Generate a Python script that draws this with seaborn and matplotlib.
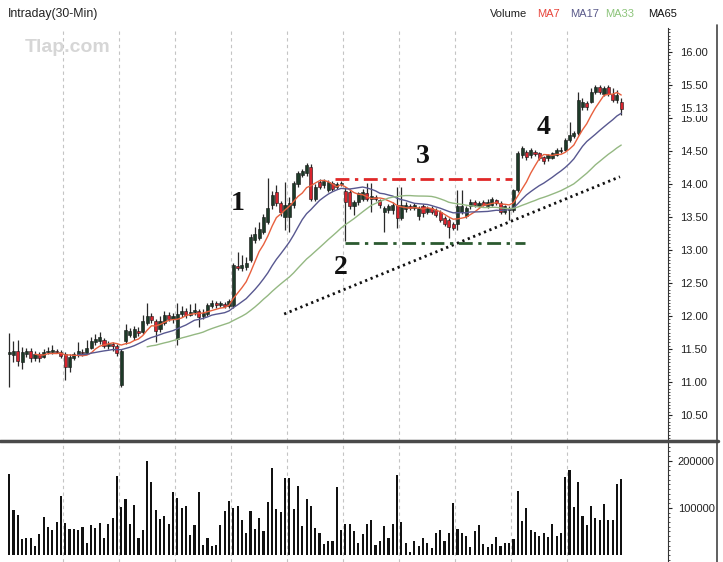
import numpy as np
import pandas as pd
import matplotlib
matplotlib.use("Agg")
import matplotlib.pyplot as plt
import seaborn as sns
from matplotlib.lines import Line2D
from matplotlib.ticker import MultipleLocator, FixedLocator

# ---------------- data ----------------
opens = [11.42, 11.41, 11.47, 11.30, 11.42, 11.47, 11.36, 11.42, 11.38, 11.45, 11.45, 11.47, 11.46,
         11.42, 11.22, 11.36, 11.41, 11.46, 11.44, 11.52, 11.60, 11.62, 11.63, 11.55, 11.57, 11.54,
         10.95, 11.62, 11.71, 11.68, 11.78, 11.76, 11.90, 12.00, 11.93, 11.80, 11.90, 12.02, 11.96,
         11.65, 12.03, 12.07, 12.02, 12.06, 12.07, 12.00, 12.03, 12.15, 12.19, 12.16, 12.18, 12.15,
         12.15, 12.76, 12.73, 12.74, 12.85, 13.15, 13.18, 13.28, 13.43, 13.68, 13.88, 13.71, 13.50,
         13.50, 13.68, 14.00, 14.14, 14.16, 14.26, 13.78, 14.03, 13.98, 13.91, 14.02, 13.95, 14.00,
         13.90, 13.88, 13.66, 13.72, 13.78, 13.86, 13.78, 13.80, 13.76, 13.58, 13.60, 13.60, 13.68,
         13.48, 13.62, 13.66, 13.63, 13.52, 13.66, 13.58, 13.63, 13.61, 13.58, 13.49, 13.45, 13.40,
         13.40, 13.58, 13.52, 13.66, 13.73, 13.66, 13.73, 13.66, 13.68, 13.76, 13.71, 13.58, 13.61,
         13.61, 13.91, 14.44, 14.49, 14.44, 14.49, 14.47, 14.41, 14.39, 14.40, 14.44, 14.50, 14.52,
         14.67, 14.72, 14.77, 15.17, 15.22, 15.25, 15.40, 15.47, 15.37, 15.47, 15.37, 15.27, 15.25]
highs = [11.74, 11.62, 11.64, 11.53, 11.52, 11.52, 11.47, 11.45, 11.50, 11.53, 11.56, 11.50, 11.49,
         11.45, 11.42, 11.46, 11.60, 11.50, 11.64, 11.68, 11.72, 11.76, 11.66, 11.62, 11.60, 11.57,
         11.50, 11.88, 11.82, 11.85, 11.84, 12.02, 12.19, 12.05, 11.96, 12.00, 12.08, 12.06, 12.05,
         12.20, 12.15, 12.12, 12.18, 12.20, 12.10, 12.10, 12.20, 12.25, 12.22, 12.23, 12.21, 12.26,
         12.80, 12.97, 12.92, 12.90, 13.25, 13.35, 13.42, 13.55, 14.09, 13.90, 13.98, 13.75, 14.03,
         13.80, 14.05, 14.20, 14.22, 14.32, 14.30, 14.00, 14.07, 14.08, 14.06, 14.05, 14.03, 14.04,
         13.95, 13.92, 13.76, 13.88, 13.92, 14.01, 14.02, 13.84, 13.78, 13.66, 13.70, 13.72, 13.96,
         13.96, 13.72, 13.70, 13.71, 13.66, 13.69, 13.66, 13.66, 13.64, 13.61, 13.52, 13.48, 13.42,
         13.91, 13.91, 13.66, 13.77, 13.76, 13.75, 13.76, 13.77, 13.80, 13.78, 13.74, 13.68, 13.67,
         13.93, 14.50, 14.57, 14.52, 14.55, 14.52, 14.49, 14.43, 14.46, 14.49, 14.55, 14.56, 14.70,
         14.94, 14.80, 15.40, 15.30, 15.26, 15.45, 15.50, 15.50, 15.48, 15.50, 15.45, 15.42, 15.30]
lows = [10.93, 11.30, 11.24, 11.20, 11.38, 11.30, 11.32, 11.30, 11.36, 11.42, 11.43, 11.44, 11.36,
        11.03, 11.15, 11.33, 11.38, 11.40, 11.42, 11.50, 11.56, 11.58, 11.52, 11.50, 11.47, 11.40,
        10.93, 11.58, 11.68, 11.64, 11.70, 11.72, 11.86, 11.90, 11.61, 11.76, 11.86, 11.92, 11.90,
        11.56, 11.98, 11.97, 12.00, 12.02, 11.84, 11.96, 12.00, 12.12, 12.12, 12.13, 12.12, 12.12,
        12.12, 12.70, 12.68, 12.70, 12.82, 13.10, 13.15, 13.25, 13.40, 13.62, 13.66, 13.52, 13.30,
        13.28, 13.64, 13.96, 14.10, 14.12, 13.75, 13.74, 13.92, 13.94, 13.88, 13.90, 13.92, 13.97,
        13.13, 13.62, 13.53, 13.68, 13.74, 13.75, 13.58, 13.74, 13.64, 13.28, 13.56, 13.55, 13.33,
        13.45, 13.58, 13.60, 13.60, 13.46, 13.50, 13.55, 13.55, 13.50, 13.42, 13.36, 13.18, 13.30,
        13.31, 13.55, 13.48, 13.62, 13.65, 13.63, 13.66, 13.64, 13.66, 13.68, 13.55, 13.55, 13.45,
        13.58, 13.88, 14.40, 14.36, 14.40, 14.42, 14.36, 14.30, 14.35, 14.38, 14.42, 14.47, 14.50,
        14.64, 14.70, 14.74, 15.12, 15.12, 15.22, 15.37, 15.36, 15.34, 15.33, 15.24, 15.22, 15.05]
closes = [11.45, 11.47, 11.32, 11.46, 11.47, 11.36, 11.42, 11.37, 11.46, 11.47, 11.48, 11.46, 11.40,
          11.22, 11.38, 11.42, 11.47, 11.44, 11.52, 11.62, 11.65, 11.68, 11.55, 11.58, 11.55, 11.44,
          11.47, 11.79, 11.77, 11.80, 11.74, 11.92, 12.00, 11.94, 11.78, 11.92, 12.02, 11.96, 12.00,
          12.03, 12.08, 12.02, 12.06, 12.09, 11.99, 12.05, 12.16, 12.20, 12.16, 12.19, 12.15, 12.23,
          12.77, 12.73, 12.77, 12.80, 13.20, 13.25, 13.32, 13.50, 13.63, 13.83, 13.71, 13.58, 13.68,
          13.71, 14.01, 14.16, 14.19, 14.29, 13.78, 13.96, 13.96, 14.04, 14.03, 13.93, 14.00, 14.01,
          13.73, 13.66, 13.73, 13.86, 13.88, 13.78, 13.82, 13.77, 13.68, 13.63, 13.66, 13.68, 13.48,
          13.68, 13.68, 13.63, 13.68, 13.63, 13.56, 13.63, 13.58, 13.53, 13.45, 13.40, 13.35, 13.33,
          13.66, 13.66, 13.63, 13.73, 13.68, 13.71, 13.68, 13.73, 13.78, 13.71, 13.58, 13.66, 13.64,
          13.91, 14.47, 14.54, 14.41, 14.52, 14.45, 14.39, 14.35, 14.44, 14.47, 14.52, 14.52, 14.67,
          14.74, 14.77, 15.27, 15.25, 15.17, 15.40, 15.47, 15.40, 15.45, 15.37, 15.27, 15.35, 15.13]
volume = [172000, 96000, 85000, 34000, 35000, 36000, 18000, 44000, 80000, 59000, 52000, 70000, 126000,
          67000, 55000, 55000, 52000, 59000, 26000, 63000, 57000, 68000, 36000, 66000, 78000, 167000,
          102000, 118000, 65000, 106000, 35000, 53000, 200000, 156000, 96000, 76000, 83000, 66000, 133000,
          122000, 99000, 104000, 42000, 63000, 133000, 22000, 35000, 18000, 22000, 63000, 93000, 115000,
          99000, 104000, 75000, 46000, 93000, 55000, 78000, 50000, 113000, 185000, 98000, 91000, 163000,
          163000, 98000, 147000, 61000, 120000, 104000, 57000, 46000, 24000, 29000, 29000, 145000, 53000,
          66000, 66000, 50000, 26000, 44000, 65000, 75000, 21000, 29000, 61000, 35000, 65000, 170000,
          70000, 25000, 6000, 29000, 18000, 35000, 26000, 14000, 46000, 52000, 29000, 46000, 111000,
          55000, 46000, 40000, 16000, 50000, 63000, 24000, 16000, 24000, 39000, 18000, 26000, 26000,
          34000, 137000, 72000, 99000, 52000, 48000, 40000, 46000, 39000, 65000, 40000, 46000, 165000,
          180000, 102000, 156000, 83000, 63000, 104000, 78000, 74000, 108000, 74000, 75000, 151000, 161000]
ma_periods = [7, 17, 33]
price_ticks = [10.5, 11.0, 11.5, 12.0, 12.5, 13.0, 13.5, 14.0, 14.5, 15.0, 15.5, 16.0]
last_price = 15.13
volume_ticks = [100000, 200000]
bars_per_day = 13
# trend annotations (bar index, price)
support_x = [63.8, 141.7]
support_y = [12.03, 14.11]
resistance_x = [75.6, 116.7]
resistance_y = [14.07, 14.07]
low_x = [77.9, 119.7]
low_y = [13.11, 13.11]
wave_labels = ["1", "2", "3", "4"]
wave_x = [53.1, 77.0, 96.0, 123.9]
wave_y = [13.71, 12.74, 14.41, 14.85]

# ---------------- figure ----------------
sns.set_theme(style="white")
plt.rcParams['font.family'] = ['Liberation Sans', 'DejaVu Sans']

W, H = 723, 562
fig = plt.figure(figsize=(W / 100, H / 100), dpi=100)
fig.patch.set_facecolor("white")


def fx(px):
    return px / W


def fy(py):
    return 1 - py / H


ax = fig.add_axes([0, fy(441), fx(668), fy(28) - fy(441)])
axv = fig.add_axes([0, 0, fx(668), fy(443)])

n = len(closes)
idx = np.arange(n)
o = np.array(opens)
c = np.array(closes)
h = np.array(highs)
l = np.array(lows)
up = c >= o

xlim = (-2.13, 152.85)
for a in (ax, axv):
    a.set_xlim(*xlim)
    a.set_facecolor("white")
    for s in ("left", "top", "bottom"):
        a.spines[s].set_visible(False)
    a.spines["right"].set_visible(True)
    a.spines["right"].set_color("#333333")
    a.spines["right"].set_linewidth(0.8)
    a.set_xticks([])
    for k in range(1, n // bars_per_day):
        a.axvline(k * bars_per_day - 0.5, color="#c4c4c4", lw=0.8,
                  ls=(0, (3, 3)), zorder=0)

# candles
ax.vlines(idx, l, h, colors="#2a2a2a", lw=0.9, zorder=3)
body = np.maximum(np.abs(c - o), 0.012)
ax.bar(idx, body, bottom=np.minimum(o, c), width=0.72,
       color=np.where(up, "#1d3a28", "#d8232d"),
       edgecolor="#151515", linewidth=0.4, zorder=4)

# moving averages
df = pd.DataFrame({"bar": idx, "close": c})
ma_colors = {7: "#e8603e", 17: "#585890", 33: "#94b882"}
for p in ma_periods:
    df[f"MA{p}"] = df["close"].rolling(p).mean()
    sns.lineplot(data=df.dropna(subset=[f"MA{p}"]), x="bar", y=f"MA{p}", ax=ax,
                 color=ma_colors[p], lw=1.0, zorder=5)

# trend lines
ax.plot(support_x, support_y, color="#111111", lw=2.0, ls=(0, (0.8, 1.3)), zorder=6)
ax.plot(resistance_x, resistance_y, color="#e02828", lw=2.0,
        ls=(0, (5, 2, 1.2, 2)), zorder=6)
ax.plot(low_x, low_y, color="#2b5a30", lw=2.0, ls=(0, (5, 2, 1.2, 2)), zorder=6)

for t, xv, yv in zip(wave_labels, wave_x, wave_y):
    ax.text(xv, yv, t, fontsize=20, fontweight="bold", family="Liberation Serif",
            ha="center", va="center", color="#111111", zorder=7)

ax.set_ylim(10.106, 16.364)
ax.set_xlabel("")
ax.set_ylabel("")
ax.yaxis.tick_right()
ax.yaxis.set_major_locator(FixedLocator(price_ticks))
ax.set_yticklabels([f"{v:.2f}" for v in price_ticks])
ax.yaxis.set_minor_locator(MultipleLocator(0.05))
ax.tick_params(axis="y", which="major", right=True, left=False, length=3, width=0.8,
               pad=6, labelsize=8, colors="#222222", direction="out")
ax.tick_params(axis="y", which="minor", right=True, left=False, length=1.5, width=0.6,
               colors="#333333")
ax.grid(False)

# last price label covering the 15.00 label
y_last = 52 + (16 - last_price) * 66
fig.text(fx(680.5), fy(y_last), f"{last_price:.2f}", fontsize=8, color="#222222",
         ha="left", va="center",
         bbox=dict(facecolor="white", edgecolor="none", pad=1.2), zorder=10)

# volume
axv.bar(idx, volume, width=0.5, color="#111111", edgecolor="none",
        antialiased=False, zorder=3)
axv.set_ylim(-15000, 238000)
axv.yaxis.tick_right()
axv.yaxis.set_major_locator(FixedLocator(volume_ticks))
axv.set_yticklabels([str(v) for v in volume_ticks])
axv.yaxis.set_minor_locator(MultipleLocator(10000))
axv.tick_params(axis="y", which="major", right=True, left=False, length=3, width=0.8,
                pad=4, labelsize=8, colors="#222222")
axv.tick_params(axis="y", which="minor", right=True, left=False, length=1.5, width=0.6,
                colors="#333333")
axv.grid(False)

# frame lines
fig.add_artist(Line2D([0, fx(718)], [fy(441), fy(441)], color="#4a4a4a", lw=2.5))
fig.add_artist(Line2D([fx(717), fx(717)], [fy(25), 0], color="#444444", lw=1.2))

# header
fig.text(fx(8), fy(14), "Intraday(30-Min)", fontsize=8.8, color="#222222", va="center")
for label, px, col in [("Volume", 490, "#222222"), ("MA7", 537, "#e8453c"),
                       ("MA17", 570, "#5a5a8a"), ("MA33", 605, "#8cc47a"),
                       ("MA65", 648, "#111111")]:
    fig.text(fx(px), fy(14), label, fontsize=8, color=col, va="center")

fig.text(fx(25), fy(47), "Tlap.com", fontsize=14, fontweight="bold",
         color="#d6d6d6", va="center")

fig.savefig("out.png", dpi=100, facecolor="white")
